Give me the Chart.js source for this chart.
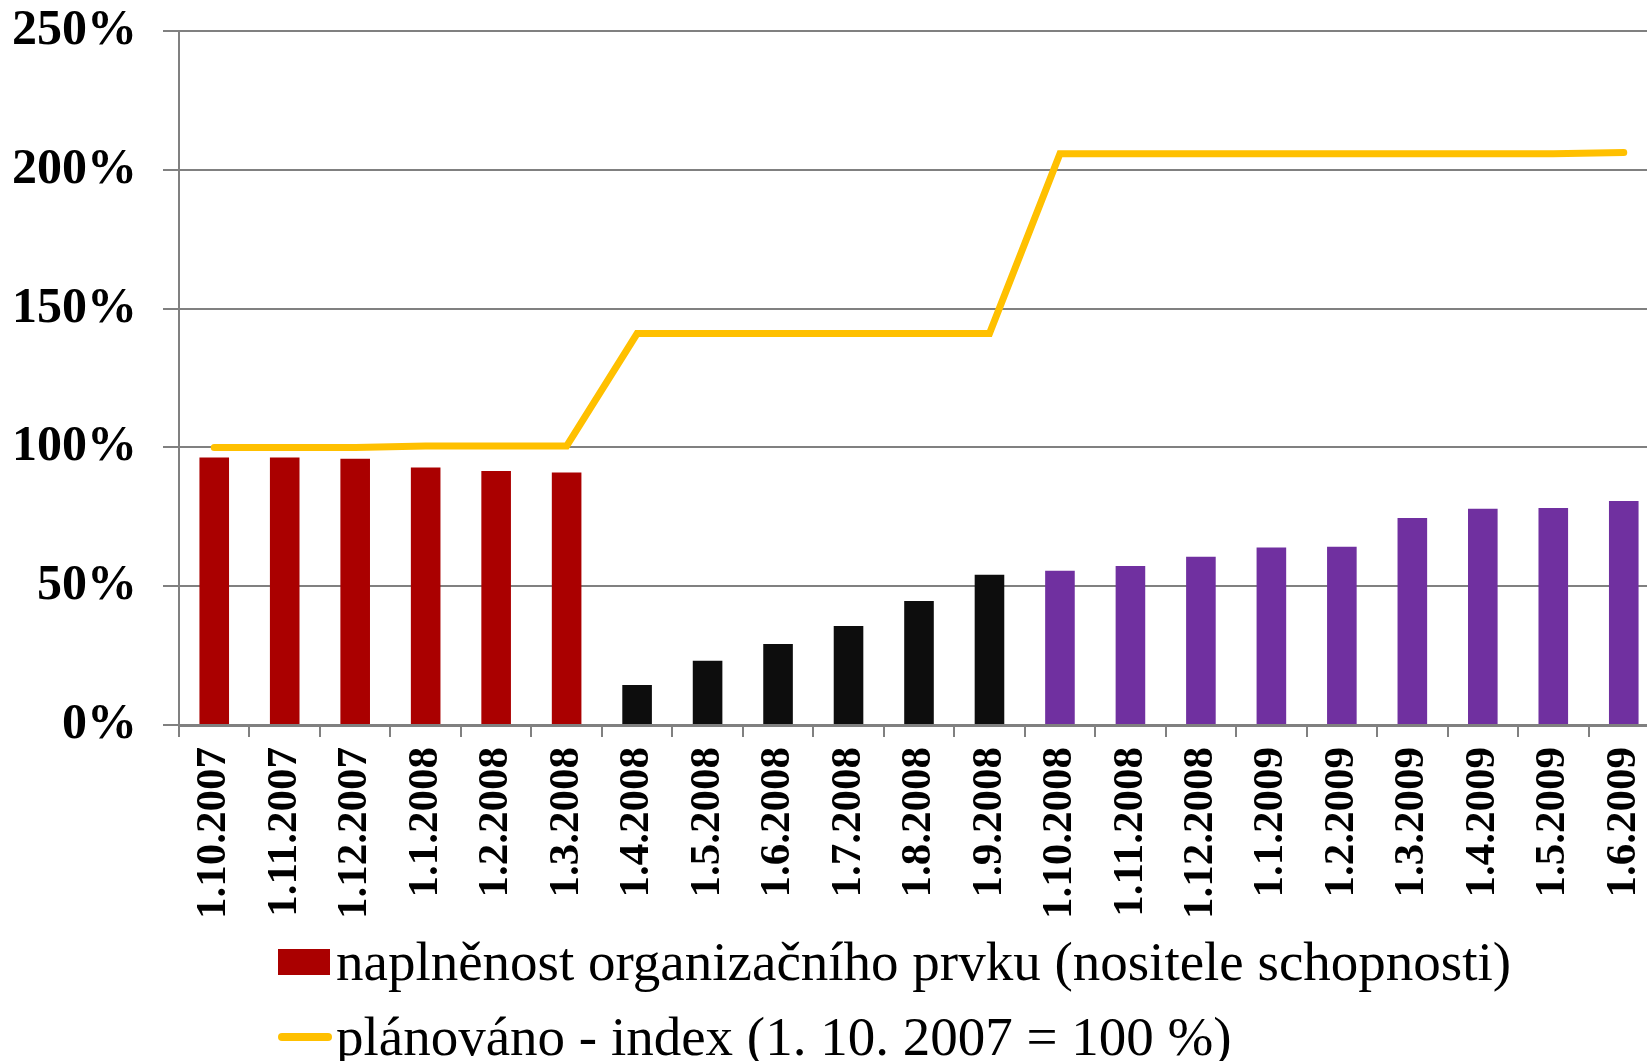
<!DOCTYPE html>
<html>
<head>
<meta charset="utf-8">
<script src="https://cdn.jsdelivr.net/npm/chart.js@4"></script>
<style>
  html, body { margin: 0; padding: 0; background: #fff; overflow: hidden; }
  #wrap { position: relative; width: 1647px; height: 1061px; overflow: hidden; }
  #chart { position: absolute; left: 0; top: 0; }
  .leg { position: absolute; left: 278px; display: flex; align-items: center;
         font-family: "Liberation Serif", serif; font-size: 55px; color: #000; white-space: nowrap; }
  .box { width: 52px; height: 26px; margin-right: 6px; }
  .ln { width: 54px; height: 8px; border-radius: 4px; margin-right: 4px; }
</style>
</head>
<body>
<div id="wrap">
  <canvas id="chart" width="1659" height="1061"></canvas>
  <div class="leg" id="leg1" style="top:930px"><div class="box"></div><span></span></div>
  <div class="leg" id="leg2" style="top:1005px"><div class="ln"></div><span></span></div>
</div>
<script>
// categories (dates)
const labels = ['1.10.2007', '1.11.2007', '1.12.2007', '1.1.2008', '1.2.2008', '1.3.2008',
    '1.4.2008', '1.5.2008', '1.6.2008', '1.7.2008', '1.8.2008', '1.9.2008',
    '1.10.2008', '1.11.2008', '1.12.2008', '1.1.2009', '1.2.2009', '1.3.2009',
    '1.4.2009', '1.5.2009', '1.6.2009'];

// naplnenost in %
const filled = [96.4, 96.4, 95.9, 92.8, 91.5, 91.0,
    14.4, 23.1, 29.2, 35.7, 44.7, 54.1,
    55.6, 57.3, 60.6, 63.9, 64.2, 74.6, 77.9, 78.2, 80.7];

// planned index in %
const planned = [100, 100, 100, 100.5, 100.5, 100.5,
    141, 141, 141, 141, 141, 141,
    205.8, 205.8, 205.8, 205.8, 205.8, 205.8, 205.8, 205.8, 206.2];

const yTicks = [0, 50, 100, 150, 200, 250];

const seriesNames = ['naplněnost organizačního prvku (nositele schopnosti)',
    'plánováno - index (1. 10. 2007 = 100 %)'];

const RED = '#AA0000', BLACK = '#0D0D0D', PURPLE = '#7030A0', YELLOW = '#FFC000', GRID = '#808080';

const barColors = labels.map((l, i) => i < 6 ? RED : (i < 12 ? BLACK : PURPLE));

// drop the automatic label overflow padding, layout padding decides the plot box
function noPad(s) {
    s.paddingTop = 0; s.paddingBottom = 0; s.paddingLeft = 0; s.paddingRight = 0;
}

const ctx = document.getElementById('chart').getContext('2d');
new Chart(ctx, {
    data: {
        labels: labels,
        datasets: [
            {
                type: 'line',
                label: seriesNames[1],
                data: planned,
                borderColor: YELLOW,
                borderWidth: 7,
                borderCapStyle: 'round',
                pointRadius: 0,
                tension: 0,
                order: 0
            },
            {
                type: 'bar',
                label: seriesNames[0],
                data: filled,
                backgroundColor: barColors,
                categoryPercentage: 1,
                barPercentage: 0.42,
                order: 1
            }
        ]
    },
    options: {
        responsive: false,
        animation: false,
        layout: { padding: { top: 31, left: 0, right: 0, bottom: 126 } },
        plugins: { legend: { display: false }, tooltip: { enabled: false } },
        scales: {
            x: {
                offset: true,
                afterFit: s => { s.height = 210; noPad(s); },
                grid: { drawOnChartArea: false, drawTicks: true, tickLength: 12, color: GRID, lineWidth: 2 },
                border: { display: true, color: GRID, width: 3 },
                ticks: {
                    minRotation: 90, maxRotation: 90, autoSkip: false, padding: 10,
                    color: '#000',
                    font: { family: 'Liberation Serif', size: 43, weight: 'bold' }
                }
            },
            y: {
                min: 0, max: 250,
                afterFit: s => { s.width = 179; noPad(s); },
                afterBuildTicks: s => { s.ticks = yTicks.map(v => ({ value: v })); },
                grid: { color: GRID, lineWidth: 2, tickLength: 16 },
                border: { display: true, color: GRID, width: 2 },
                ticks: {
                    padding: 26, color: '#000',
                    font: { family: 'Liberation Serif', size: 50, weight: 'bold' },
                    callback: v => v + '%'
                }
            }
        }
    }
});

// legend (two rows, left aligned)
document.querySelector('#leg1 .box').style.background = RED;
document.querySelector('#leg1 span').textContent = seriesNames[0];
document.querySelector('#leg2 .ln').style.background = YELLOW;
document.querySelector('#leg2 span').textContent = seriesNames[1];
</script>
</body>
</html>
